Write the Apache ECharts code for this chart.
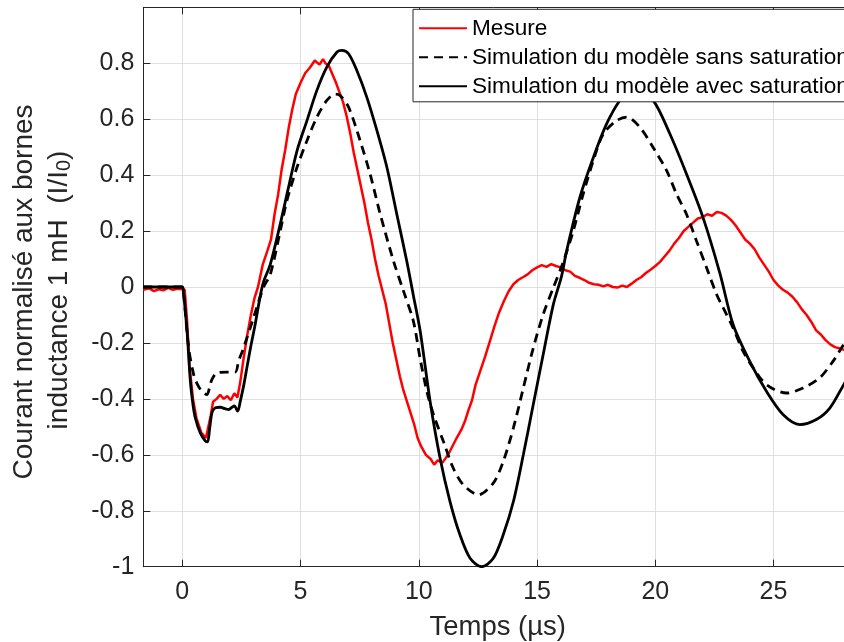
<!DOCTYPE html>
<html>
<head>
<meta charset="utf-8">
<script src="https://cdn.jsdelivr.net/npm/echarts@6/dist/echarts.min.js"></script>
<style>
html,body{margin:0;padding:0;background:#fff;}
#chart{width:844px;height:642px;}
</style>
</head>
<body>
<div id="chart"></div>
<script>
// ---- Data ----
var seriesNames = ['Mesure', 'Simulation du modèle sans saturation', 'Simulation du modèle avec saturation'];

var mesureT = [-1.65,-1.4,-1.2,-1.0,-0.8,-0.6,-0.4,-0.2,0.0,0.1,0.2,0.3,0.45,0.6,0.8,1.0,1.08,1.2,1.3,1.45,1.6,1.75,1.9,2.05,2.2,2.33,2.45,2.6,2.75,2.9,3.05,3.2,3.4,3.6,3.75,3.9,4.05,4.2,4.35,4.5,4.65,4.8,5.0,5.2,5.4,5.6,5.8,5.95,6.05,6.2,6.35,6.5,6.65,6.8,6.95,7.1,7.25,7.4,7.55,7.7,7.85,8.0,8.15,8.3,8.45,8.6,8.75,8.9,9.05,9.2,9.35,9.5,9.65,9.8,9.95,10.1,10.3,10.5,10.65,10.8,11.0,11.15,11.3,11.45,11.6,11.8,11.95,12.1,12.25,12.4,12.6,12.8,13.0,13.2,13.4,13.6,13.8,14.0,14.2,14.4,14.6,14.8,15.0,15.2,15.4,15.6,15.8,16.0,16.2,16.4,16.6,16.8,17.0,17.2,17.4,17.6,17.8,18.0,18.2,18.4,18.6,18.8,19.0,19.2,19.4,19.6,19.8,20.0,20.2,20.4,20.6,20.8,21.0,21.2,21.4,21.6,21.8,22.0,22.2,22.4,22.6,22.8,23.0,23.2,23.4,23.6,23.8,24.0,24.2,24.4,24.6,24.8,25.0,25.2,25.4,25.6,25.8,26.0,26.2,26.4,26.6,26.8,27.0,27.2,27.4,27.6,27.8,28.0,28.35];
var mesureV = [-0.01,-0.005,-0.015,-0.008,-0.012,-0.003,-0.01,-0.006,-0.008,-0.01,-0.12,-0.28,-0.40,-0.47,-0.52,-0.54,-0.545,-0.46,-0.41,-0.40,-0.385,-0.40,-0.39,-0.405,-0.38,-0.395,-0.34,-0.25,-0.17,-0.10,-0.04,0.0,0.08,0.13,0.17,0.26,0.33,0.42,0.49,0.57,0.635,0.69,0.73,0.765,0.785,0.81,0.795,0.815,0.80,0.79,0.76,0.73,0.695,0.66,0.61,0.55,0.48,0.42,0.36,0.30,0.23,0.17,0.10,0.04,-0.01,-0.06,-0.13,-0.20,-0.26,-0.32,-0.37,-0.41,-0.45,-0.49,-0.54,-0.57,-0.60,-0.615,-0.635,-0.62,-0.628,-0.61,-0.59,-0.565,-0.54,-0.51,-0.48,-0.44,-0.405,-0.35,-0.30,-0.25,-0.195,-0.14,-0.09,-0.05,-0.015,0.01,0.025,0.035,0.045,0.06,0.07,0.078,0.072,0.082,0.075,0.07,0.06,0.055,0.04,0.033,0.025,0.015,0.01,0.008,0.002,0.008,0.0,-0.002,0.005,0.0,0.012,0.025,0.035,0.05,0.062,0.075,0.09,0.11,0.13,0.155,0.175,0.2,0.215,0.23,0.245,0.25,0.26,0.255,0.268,0.265,0.255,0.24,0.22,0.195,0.17,0.155,0.135,0.105,0.08,0.055,0.025,0.005,-0.01,-0.02,-0.035,-0.055,-0.08,-0.1,-0.125,-0.155,-0.17,-0.19,-0.205,-0.215,-0.22,-0.225,-0.235];

var sansT = [-1.65,0.0,0.05,0.27,0.48,0.65,0.83,1.04,1.15,1.25,1.46,1.89,2.24,2.38,2.59,3.01,3.44,3.72,4.14,4.42,4.85,5.27,5.69,6.11,6.46,6.67,7.03,7.52,7.94,8.37,8.93,9.35,9.77,10.05,10.34,10.62,11.04,11.46,11.88,12.52,13.15,13.57,14.0,14.42,14.84,15.26,15.69,16.11,16.53,16.95,17.38,17.8,18.37,18.79,19.35,19.91,20.48,20.9,21.32,21.74,22.17,22.59,22.87,23.29,23.71,24.14,24.7,25.55,26.25,26.95,27.52,27.97,28.35];
var sansV = [0,0,-0.02,-0.218,-0.313,-0.35,-0.373,-0.385,-0.36,-0.331,-0.307,-0.304,-0.304,-0.265,-0.218,-0.11,0.0,0.045,0.2,0.308,0.428,0.523,0.607,0.667,0.69,0.685,0.643,0.523,0.404,0.26,0.093,-0.014,-0.122,-0.253,-0.373,-0.456,-0.552,-0.648,-0.707,-0.743,-0.701,-0.624,-0.504,-0.361,-0.218,-0.098,-0.002,0.09,0.2,0.332,0.452,0.547,0.595,0.607,0.571,0.499,0.416,0.332,0.26,0.165,0.069,-0.026,-0.074,-0.146,-0.229,-0.289,-0.349,-0.379,-0.361,-0.325,-0.265,-0.205,-0.16];

var avecT = [-1.65,0.0,0.05,0.2,0.34,0.45,0.55,0.76,0.97,1.07,1.15,1.21,1.27,1.4,1.61,1.8,1.96,2.1,2.2,2.34,2.45,2.6,2.73,2.9,3.08,3.3,3.44,3.72,4.14,4.49,4.85,5.27,5.69,6.11,6.54,6.75,7.03,7.38,7.8,8.23,8.65,9.07,9.49,9.77,10.06,10.48,10.9,11.32,11.74,12.17,12.66,13.15,13.57,14.0,14.42,14.84,15.26,15.69,16.04,16.25,16.81,17.38,17.94,18.5,19.1,19.91,20.62,21.32,22.02,22.73,23.29,23.99,24.7,25.4,26.11,26.81,27.38,27.97,28.35];
var avecV = [0,0,-0.02,-0.158,-0.337,-0.42,-0.468,-0.522,-0.55,-0.554,-0.51,-0.47,-0.445,-0.432,-0.43,-0.435,-0.438,-0.43,-0.425,-0.444,-0.409,-0.35,-0.289,-0.21,-0.134,-0.03,0.02,0.081,0.225,0.356,0.487,0.595,0.703,0.786,0.84,0.846,0.834,0.774,0.679,0.559,0.428,0.26,0.093,-0.03,-0.158,-0.41,-0.612,-0.767,-0.886,-0.97,-1.0,-0.97,-0.886,-0.767,-0.6,-0.42,-0.241,-0.062,0.04,0.129,0.32,0.463,0.583,0.667,0.72,0.667,0.547,0.404,0.248,0.05,-0.134,-0.265,-0.373,-0.456,-0.492,-0.474,-0.433,-0.349,-0.3];

var yTicks = [-1,-0.8,-0.6,-0.4,-0.2,0,0.2,0.4,0.6,0.8];
var xTickStep = 5;
var xMin = -1.65, xMax = 27.98;

function zip(t, v){ var out=[]; for (var i=0;i<t.length;i++) out.push([t[i], v[i]]); return out; }

var FONT = '"Liberation Sans", Arial, Helvetica, sans-serif';
var TXT = '#262626';

var chart = echarts.init(document.getElementById('chart'), null, {renderer:'canvas'});
var option = {
  animation: false,
  backgroundColor: '#ffffff',
  textStyle: {fontFamily: FONT},
  grid: {left: 143.3, right: 0, top: 7.3, bottom: 75.3, containLabel: false},
  legend: {
    orient: 'vertical',
    left: 413, top: 9.3,
    padding: [7.5, 10, 4, 5],
    itemWidth: 48, itemHeight: 14, itemGap: 6,
    backgroundColor: '#ffffff',
    borderColor: '#262626', borderWidth: 1, borderRadius: 0,
    itemStyle: {opacity: 0},
    textStyle: {fontSize: 22.6, color: '#000', fontFamily: FONT, lineHeight: 22},
    data: seriesNames
  },
  xAxis: [{
    type: 'value', min: xMin, max: xMax, splitNumber: 6, position: 'bottom',
    axisLine: {show: true, onZero: false, lineStyle: {color: TXT, width: 1}},
    axisTick: {show: true, inside: true, length: 7, lineStyle: {color: TXT}},
    axisLabel: {fontSize: 25, color: TXT, margin: 13, fontFamily: FONT,
      showMinLabel: false, showMaxLabel: false,
      formatter: function(v){ return (Math.abs(v/xTickStep - Math.round(v/xTickStep)) < 1e-6) ? String(Math.round(v)) : ''; }},
    splitLine: {show: true, lineStyle: {color: '#dfdfdf', width: 1}}
  }, {
    type: 'value', min: xMin, max: xMax, splitNumber: 6, position: 'top',
    axisLine: {show: true, onZero: false, lineStyle: {color: TXT, width: 1}},
    axisTick: {show: true, inside: true, length: 7, lineStyle: {color: TXT}},
    axisLabel: {show: false},
    splitLine: {show: false}
  }],
  yAxis: {
    type: 'value', min: -1, max: 1, interval: 0.2,
    axisLine: {show: true, onZero: false, lineStyle: {color: TXT, width: 1}},
    axisTick: {show: true, inside: true, length: 7, lineStyle: {color: TXT}},
    axisLabel: {fontSize: 25, color: TXT, margin: 9, fontFamily: FONT,
      showMaxLabel: false,
      formatter: function(v){ var r = Math.round(v*10)/10; return yTicks.indexOf(r) >= 0 ? String(r) : ''; }},
    splitLine: {show: true, lineStyle: {color: '#dfdfdf', width: 1}}
  },
  graphic: [
    {type: 'text', x: 497.7, y: 627,
     style: {text: 'Temps (µs)', fontSize: 27.5, fill: TXT, fontFamily: FONT, align: 'center', verticalAlign: 'middle'}},
    {type: 'text', x: 24, y: 292, rotation: Math.PI/2,
     style: {text: 'Courant normalisé aux bornes', fontSize: 28, fill: TXT, fontFamily: FONT, align: 'center', verticalAlign: 'middle'}},
    {type: 'text', x: 59, y: 290, rotation: Math.PI/2,
     style: {text: '{a|inductance 1 mH  (I/I}{b|0}{a|)}', fill: TXT, fontFamily: FONT, align: 'center', verticalAlign: 'middle',
       rich: {a: {fontSize: 28, lineHeight: 31, fill: TXT, fontFamily: FONT},
              b: {fontSize: 20, lineHeight: 14, verticalAlign: 'bottom', fill: TXT, fontFamily: FONT}}}}
  ],
  series: [
    {name: seriesNames[0], type: 'line', xAxisIndex: 0, data: zip(mesureT, mesureV), symbol: 'none',
     lineStyle: {color: '#ff0000', width: 2.5}, itemStyle: {color: '#ff0000'}},
    {name: seriesNames[1], type: 'line', xAxisIndex: 0, data: zip(sansT, sansV), symbol: 'none', smooth: 0.3,
     lineStyle: {color: '#000000', width: 2.8, type: [9, 6]}, itemStyle: {color: '#000000'}},
    {name: seriesNames[2], type: 'line', xAxisIndex: 0, data: zip(avecT, avecV), symbol: 'none', smooth: 0.3,
     lineStyle: {color: '#000000', width: 2.8}, itemStyle: {color: '#000000'}}
  ]
};
chart.setOption(option);
</script>
</body>
</html>
